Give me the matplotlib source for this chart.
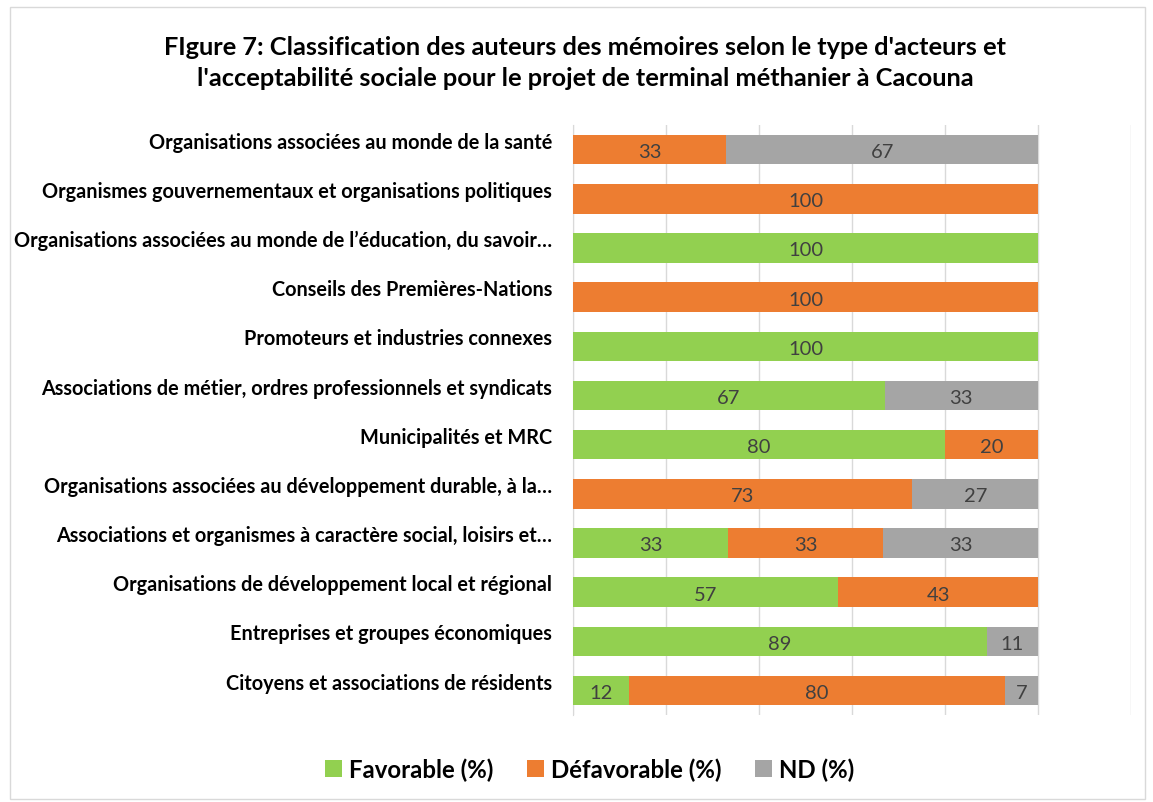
import matplotlib.pyplot as plt
import numpy as np
from matplotlib.patches import Rectangle

plt.rcParams['font.family'] = ['Lato', 'DejaVu Sans']

categories = [
    "Organisations associées au monde de la santé",
    "Organismes gouvernementaux et organisations politiques",
    "Organisations associées au monde de l’éducation, du savoir…",
    "Conseils des Premières-Nations",
    "Promoteurs et industries connexes",
    "Associations de métier, ordres professionnels et syndicats",
    "Municipalités et MRC",
    "Organisations associées au développement durable, à la…",
    "Associations et organismes à caractère social, loisirs et…",
    "Organisations de développement local et régional",
    "Entreprises et groupes économiques",
    "Citoyens et associations de résidents",
]
favorable = [0, 0, 100, 0, 100, 67, 80, 0, 33, 57, 89, 12]
defavorable = [33, 100, 0, 100, 0, 0, 20, 73, 33, 43, 0, 80]
nd = [67, 0, 0, 0, 0, 33, 0, 27, 33, 0, 11, 7]

series = [("Favorable (%)", favorable, "#92d050"),
          ("Défavorable (%)", defavorable, "#ed7d31"),
          ("ND (%)", nd, "#a5a5a5")]

# 100% stacked: each row is scaled to fill 100
totals = np.array(favorable) + np.array(defavorable) + np.array(nd)

W, H = 1153, 803
fig = plt.figure(figsize=(W / 100, H / 100), dpi=100)
ax = fig.add_axes([573 / W, 1 - 716 / H, (1131 - 573) / W, (716 - 126) / H])

y = np.arange(len(categories))[::-1]
left = np.zeros(len(categories))
for name, vals, col in series:
    raw = np.array(vals, dtype=float)
    vals = raw / totals * 100
    ax.barh(y, vals, left=left, height=0.6, color=col, label=name, zorder=3)
    for yi, l, v, r in zip(y, left, vals, raw):
        if r > 0:
            ax.text(l + v / 2, yi - 0.04, f"{int(r)}", ha='center', va='center',
                    fontsize=14.5, color='#404040', zorder=4)
    left += vals

ax.set_xlim(0, 120)
ax.set_ylim(-0.5, len(categories) - 0.5)
ax.set_xticks(np.arange(0, 121, 20))
ax.set_xticklabels([])
ax.tick_params(axis='x', length=0)
ax.tick_params(axis='y', length=0, pad=15)
ax.grid(axis='x', color='#d9d9d9', lw=1, zorder=0)
ax.set_yticks(y + 0.2)
ax.set_yticklabels(categories, fontsize=14.3, fontweight='bold')
for s in ['top', 'right', 'bottom']:
    ax.spines[s].set_visible(False)
ax.spines['left'].set_color('#d9d9d9')

fig.text(585 / W, 1 - 63 / H,
         "FIgure 7: Classification des auteurs des mémoires selon le type d'acteurs et\n"
         "l'acceptabilité sociale pour le projet de terminal méthanier à Cacouna",
         ha='center', va='center', fontsize=18.3, fontweight='bold', linespacing=1.4)

fig.legend(loc='center', bbox_to_anchor=(590 / W, 1 - 770 / H), ncol=3, frameon=False,
           prop={'size': 17.3, 'weight': 'bold'}, handlelength=0.7, handleheight=0.7,
           handletextpad=0.3, columnspacing=1.4)

fig.patches.append(Rectangle((10 / W, 1 - 800 / H), 1135 / W, 792 / H, transform=fig.transFigure,
                             fill=False, edgecolor='#d9d9d9', lw=1))

fig.savefig("out.png", dpi=100)
